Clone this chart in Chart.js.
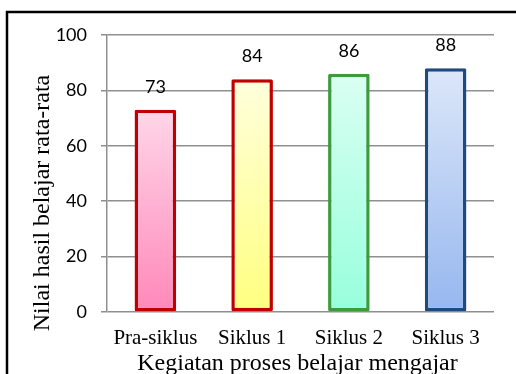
<!DOCTYPE html>
<html>
<head>
<meta charset="utf-8">
<script src="https://cdn.jsdelivr.net/npm/chart.js@4/dist/chart.umd.min.js"></script>
<style>
  html, body { margin: 0; padding: 0; background: #fff; }
  #wrap { position: relative; width: 516px; height: 374px; }
</style>
</head>
<body>
<div id="wrap"><canvas id="c" width="516" height="374"></canvas></div>
<script>
// Average learning scores per teaching cycle
const categories = ['Pra-siklus', 'Siklus 1', 'Siklus 2', 'Siklus 3'];
const values = [73, 84, 86, 88];
const yTicks = [0, 20, 40, 60, 80, 100];

// Bar styling: gradient top/bottom colours and outline colours
const fillTop = ['#ffd6e8', '#ffffdc', '#dafff2', '#dce7f9'];
const fillBottom = ['#ff88ba', '#ffff80', '#97ffdc', '#96b7ef'];
const outline = ['#c00000', '#c00000', '#3c9b3c', '#1f4a7e'];

const yTitle = 'Nilai hasil belajar rata-rata';
const xTitle = 'Kegiatan proses belajar mengajar';

const serif = '"Liberation Serif", "Times New Roman", serif';
const sans = 'Lato, Calibri, sans-serif';

function barGradient(ctx) {
  const chart = ctx.chart;
  const area = chart.chartArea;
  if (!area) return fillBottom[ctx.dataIndex];
  const y = chart.scales.y;
  const top = y.getPixelForValue(values[ctx.dataIndex]);
  const bottom = y.getPixelForValue(0);
  const g = chart.ctx.createLinearGradient(0, top, 0, bottom);
  g.addColorStop(0, fillTop[ctx.dataIndex]);
  g.addColorStop(1, fillBottom[ctx.dataIndex]);
  return g;
}

// Frame, value labels and axis titles
const decorations = {
  id: 'decorations',
  afterDatasetsDraw(chart) {
    const c = chart.ctx;
    const meta = chart.getDatasetMeta(0);
    c.save();
    c.fillStyle = '#000';
    c.font = '18px ' + sans;
    c.textAlign = 'center';
    c.textBaseline = 'middle';
    meta.data.forEach((bar, i) => {
      c.fillText(String(values[i]), bar.x, bar.y - 23);
    });
    c.restore();
  },
  afterDraw(chart) {
    const c = chart.ctx;
    const area = chart.chartArea;
    c.save();
    // outer frame
    c.strokeStyle = '#000';
    c.lineWidth = 2.5;
    c.beginPath();
    c.moveTo(7, 380);
    c.lineTo(7, 12);
    c.lineTo(520, 12);
    c.stroke();

    c.fillStyle = '#000';
    c.font = '24px ' + serif;
    c.textAlign = 'center';
    c.textBaseline = 'alphabetic';
    // x-axis title
    c.fillText(xTitle, (area.left + area.right) / 2 - 3, 370);
    // y-axis title
    c.translate(49, 203);
    c.rotate(-Math.PI / 2);
    c.fillText(yTitle, 0, 0);
    c.restore();
  }
};

new Chart(document.getElementById('c'), {
  type: 'bar',
  data: {
    labels: categories,
    datasets: [{
      data: values,
      backgroundColor: barGradient,
      borderColor: outline,
      borderWidth: 3.5,
      borderSkipped: false,
      borderRadius: 1.5,
      categoryPercentage: 1,
      barPercentage: 0.43
    }]
  },
  options: {
    responsive: false,
    animation: false,
    events: [],
    layout: { padding: { left: 0, top: 35, right: 22, bottom: 0 } },
    plugins: {
      legend: { display: false },
      tooltip: { enabled: false }
    },
    scales: {
      x: {
        grid: { display: false, drawTicks: false },
        border: { display: false },
        ticks: {
          color: '#000',
          font: { family: serif, size: 21 },
          padding: 14,
          maxRotation: 0
        },
        afterFit(s) { s.height = 62; }
      },
      y: {
        min: 0,
        max: 100,
        afterBuildTicks(s) { s.ticks = yTicks.map(v => ({ value: v })); },
        grid: { color: '#8f8f8f', lineWidth: 1.5, tickLength: 6, drawTicks: true },
        border: { display: true, color: '#8f8f8f', width: 1.5 },
        ticks: {
          color: '#000',
          font: { family: sans, size: 18 },
          padding: 14
        },
        afterFit(s) { s.width = 107; }
      }
    }
  },
  plugins: [decorations]
});
</script>
</body>
</html>
